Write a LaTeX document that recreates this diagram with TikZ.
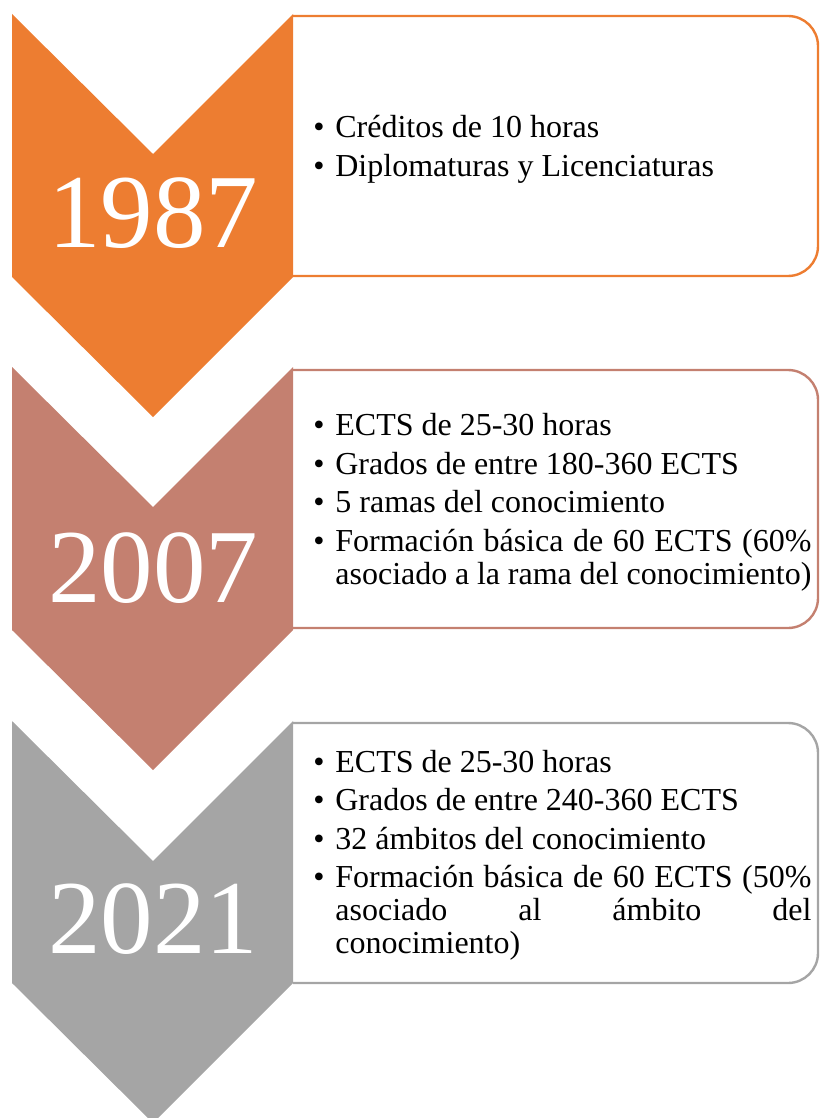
\documentclass[tikz,border=0pt]{standalone}
\usepackage{fontspec}
\setmainfont{Liberation Serif}
\usepackage{tikz}
\definecolor{anaranjado}{HTML}{ED7D31}
\definecolor{rosado}{RGB}{196,128,112}
\definecolor{gris}{HTML}{A5A5A5}
\newcommand{\punto}[1]{\par\noindent\makebox[11pt][l]{\textbullet}\parbox[t]{238pt}{\spaceskip=0pt\xspaceskip=0pt #1}}

\tikzset{
  anio/.style={text=white, font=\fontsize{52.5}{55}\selectfont, inner sep=0pt, anchor=base},
  lista/.style={anchor=west, inner sep=0pt, text width=249pt, align=justify,
    font=\fontsize{16}{16.5}\selectfont},
  caja/.style={line width=1.2pt, rounded corners=15pt}
}

\begin{document}
\begin{tikzpicture}[x=0.5pt, y=-0.5pt]
    \useasboundingbox (0,0) rectangle (819,1118);
    % flechas
    \fill[anaranjado] (12,14) -- (153,154) -- (293,14) -- (293,277) -- (153,417) -- (12,277) -- cycle;
    \fill[rosado] (12,367) -- (153,507) -- (293,367) -- (293,630) -- (153,770) -- (12,630) -- cycle;
    \fill[gris] (12,721) -- (153,861) -- (293,721) -- (293,983) -- (153,1123) -- (12,983) -- cycle;
    % cajas
    \draw[caja, anaranjado] (293,16) -- (818,16) -- (818,276) -- (293,276);
    \draw[caja, rosado] (293,370) -- (818,370) -- (818,628) -- (293,628);
    \draw[caja, gris] (293,723) -- (818,723) -- (818,983) -- (293,983);
    % años
    \node[anio] (a1987) at (153,248) {1987};
    \node[anio] (a2007) at (153,602) {2007};
    \node[anio] (a2021) at (153,953) {2021};
    % textos
    \node[lista] (t1987) at (313,141) {\setlength{\parskip}{2.75pt}%
        \punto{Créditos de 10 horas}
        \punto{Diplomaturas y Licenciaturas}};
    \node[lista] (t2007) at (313,494) {\setlength{\parskip}{2.75pt}%
        \punto{ECTS de 25-30 horas}
        \punto{Grados de entre 180-360 ECTS}
        \punto{5 ramas del conocimiento}
        \punto{Formación básica de 60 ECTS (60\% asociado a la rama del conocimiento)}};
    \node[lista] (t2021) at (313,847) {\setlength{\parskip}{2.75pt}%
        \punto{ECTS de 25-30 horas}
        \punto{Grados de entre 240-360 ECTS}
        \punto{32 ámbitos del conocimiento}
        \punto{Formación básica de 60 ECTS (50\%\linebreak asociado al ámbito del\linebreak conocimiento)}};
\end{tikzpicture}
\end{document}
